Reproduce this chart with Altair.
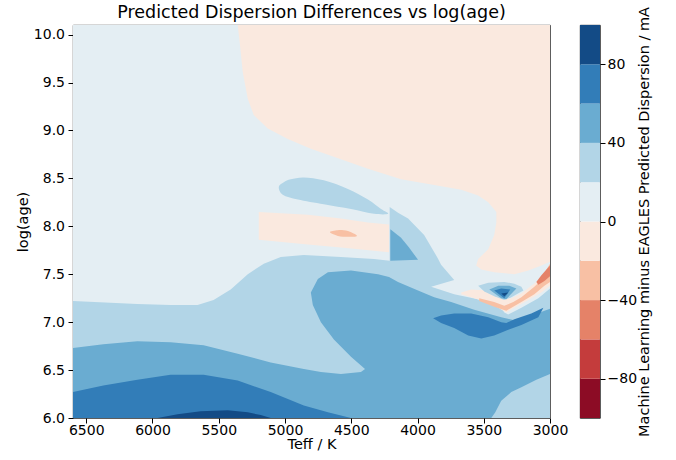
import altair as alt
import pandas as pd

# ---- colour levels (contour bands, lower bound of each 20 mA band) ----
LEVELS = [-100, -80, -60, -40, -20, 0, 20, 40, 60, 80]
COLORS = ["#8c0c25", "#c43c3c", "#e58268", "#f8c0a4", "#fae9df",
          "#e4eef3", "#b2d5e7", "#6aacd1", "#327db8", "#134b86"]

X_TICKS = [6500, 6000, 5500, 5000, 4500, 4000, 3500, 3000]
Y_TICKS = [6.0, 6.5, 7.0, 7.5, 8.0, 8.5, 9.0, 9.5, 10.0]
CB_TICKS = [-80, -40, 0, 40, 80]

# ---- contour regions: (Teff, log(age)) vertices ----
background = [(6600, 6.0), (3000, 6.0), (3000, 10.1), (6600, 10.1)]
upper_right = [(5357, 10.1), (3000, 10.1), (3000, 7.63), (3065, 7.59), (3163, 7.54),
               (3269, 7.50), (3421, 7.52), (3519, 7.55), (3557, 7.59), (3542, 7.66),
               (3466, 7.76), (3421, 7.91), (3405, 8.04), (3405, 8.15), (3466, 8.25),
               (3542, 8.32), (3670, 8.38), (3874, 8.43), (4124, 8.49), (4374, 8.60),
               (4578, 8.70), (4805, 8.81), (4979, 8.91), (5130, 9.02), (5236, 9.16),
               (5281, 9.33), (5319, 9.61), (5342, 9.92)]
mid_band = [(5198, 8.15), (4828, 8.12), (4578, 8.08), (4374, 8.04), (4215, 8.02),
            (4215, 7.73), (4578, 7.78), (4828, 7.81), (5198, 7.86)]
mid_spot = [(4661, 7.94), (4601, 7.96), (4525, 7.95), (4457, 7.90), (4525, 7.89),
            (4601, 7.90)]
upper_blob = [(5047, 8.41), (5009, 8.46), (4956, 8.49), (4858, 8.51), (4707, 8.48),
              (4525, 8.39), (4374, 8.28), (4275, 8.18), (4222, 8.13), (4328, 8.13),
              (4502, 8.18), (4707, 8.23), (4903, 8.28), (5017, 8.33)]
lower_20 = [(6600, 6.0), (6600, 7.22), (6114, 7.19), (5864, 7.18), (5660, 7.18),
            (5539, 7.23), (5410, 7.34), (5281, 7.50), (5160, 7.61), (5032, 7.68),
            (4858, 7.70), (4578, 7.68), (4328, 7.66), (4210, 7.64), (4210, 8.20),
            (4147, 8.14), (4071, 8.08), (3950, 7.91), (3844, 7.66), (3822, 7.60),
            (3723, 7.44), (3897, 7.37), (3723, 7.29), (3519, 7.23), (3368, 7.15),
            (3345, 7.10), (3315, 7.08), (3216, 7.15), (3088, 7.25), (3000, 7.35),
            (3000, 6.0)]
lower_40 = [(6600, 6.73), (6371, 6.77), (6114, 6.80), (5864, 6.79), (5614, 6.76),
            (5357, 6.67), (5108, 6.58), (4858, 6.51), (4729, 6.48), (4578, 6.46),
            (4427, 6.48), (4396, 6.51), (4502, 6.64), (4631, 6.82), (4729, 7.00),
            (4790, 7.18), (4805, 7.31), (4752, 7.45), (4676, 7.52), (4502, 7.54),
            (4298, 7.50), (4215, 7.47), (4147, 7.42), (3996, 7.33), (3874, 7.26),
            (3746, 7.21), (3572, 7.13), (3368, 7.05), (3269, 7.02), (3118, 7.08),
            (3000, 7.14), (3000, 6.0), (6600, 6.0)]
wedge_40 = [(4205, 7.97), (4124, 7.88), (4064, 7.78), (3996, 7.65), (4205, 7.64)]
lower_60 = [(6600, 6.27), (6371, 6.34), (6114, 6.40), (5864, 6.45), (5614, 6.45),
            (5357, 6.39), (5108, 6.27), (4858, 6.13), (4676, 6.06), (4502, 6.0),
            (6600, 6.0)]
lower_80 = [(5962, 6.0), (5811, 6.04), (5637, 6.07), (5433, 6.08), (5281, 6.06),
            (5183, 6.03), (5108, 6.0)]
cool_60 = [(3882, 7.04), (3822, 7.07), (3723, 7.09), (3595, 7.09), (3466, 7.05),
           (3368, 7.00), (3330, 6.99), (3269, 7.03), (3141, 7.09), (3050, 7.15),
           (3088, 7.05), (3216, 6.97), (3315, 6.92), (3421, 6.86), (3519, 6.83),
           (3617, 6.86), (3723, 6.94), (3822, 6.99)]
corner_20 = [(3443, 6.0), (3413, 6.06), (3368, 6.18), (3292, 6.27), (3216, 6.32),
             (3103, 6.40), (3000, 6.46), (3000, 6.0)]
vee_m20 = [(3670, 7.31), (3595, 7.34), (3466, 7.33), (3390, 7.28), (3345, 7.24),
           (3292, 7.25), (3216, 7.30), (3141, 7.38), (3065, 7.46), (3000, 7.57),
           (3000, 7.38), (3065, 7.31), (3163, 7.23), (3254, 7.16), (3330, 7.10),
           (3390, 7.15), (3481, 7.21), (3595, 7.26), (3670, 7.29)]
vee_m40 = [(3534, 7.25), (3421, 7.21), (3345, 7.17), (3277, 7.21), (3216, 7.26),
           (3118, 7.37), (3042, 7.47), (3027, 7.55), (3000, 7.61), (3000, 7.42),
           (3042, 7.38), (3118, 7.29), (3216, 7.21), (3330, 7.12), (3421, 7.16),
           (3534, 7.22)]
edge_m60 = [(3103, 7.42), (3065, 7.49), (3000, 7.59), (3000, 7.48), (3042, 7.43),
            (3088, 7.39)]
ring_20 = [(3542, 7.38), (3466, 7.41), (3345, 7.42), (3269, 7.40), (3216, 7.37),
           (3201, 7.33), (3292, 7.26), (3345, 7.23), (3421, 7.27), (3496, 7.32)]
ring_40 = [(3458, 7.34), (3390, 7.38), (3307, 7.38), (3254, 7.35), (3330, 7.24),
           (3368, 7.25)]
ring_60 = [(3421, 7.33), (3368, 7.35), (3300, 7.34), (3345, 7.25)]
ring_80 = [(3368, 7.30), (3315, 7.31), (3345, 7.27)]

# painting order (later regions drawn on top); True = smooth closed outline
SHAPES = [
    (background, 0, False), (upper_right, -20, False), (mid_band, -20, False),
    (mid_spot, -40, True), (upper_blob, 20, True), (lower_20, 20, False),
    (lower_40, 40, False), (wedge_40, 40, False), (lower_60, 60, False),
    (lower_80, 80, False), (cool_60, 60, False), (corner_20, 20, False),
    (vee_m20, -20, False), (vee_m40, -40, False), (edge_m60, -60, False),
    (ring_20, 20, False), (ring_40, 40, False), (ring_60, 60, False),
    (ring_80, 80, False),
]

rows = []
for k, (pts, lvl, _) in enumerate(SHAPES):
    for i, (t, a) in enumerate(pts):
        rows.append({"shape": k, "i": i, "teff": t, "logage": a, "level": lvl})
df = pd.DataFrame(rows)

FONT = "DejaVu Sans"
color_scale = alt.Scale(domain=LEVELS, range=COLORS)

x_enc = alt.X("teff:Q",
              scale=alt.Scale(domain=[3000, 6600], reverse=True, nice=False, zero=False),
              axis=alt.Axis(values=X_TICKS, format="d", title="Teff / K",
                            labelPadding=0, titlePadding=0, labelFlush=False))
y_enc = alt.Y("logage:Q",
              scale=alt.Scale(domain=[6.0, 10.1], nice=False, zero=False),
              axis=alt.Axis(values=Y_TICKS, format=".1f", title="log(age)",
                            labelPadding=3.5, titlePadding=3, labelFlush=False))

base = alt.Chart(df)
layers = []
for k, (_, _, smooth) in enumerate(SHAPES):
    layers.append(
        base.transform_filter(alt.datum.shape == k)
        .mark_line(filled=True,
                   interpolate="cardinal-closed" if smooth else "linear-closed",
                   clip=True)
        .encode(x=x_enc, y=y_enc, order=alt.Order("i:Q"),
                color=alt.Color("level:O", scale=color_scale, legend=None))
    )

main = alt.layer(*layers).properties(
    width=477, height=393,
    title=alt.TitleParams("Predicted Dispersion Differences vs log(age)",
                          fontSize=17.5, fontWeight="normal", font=FONT,
                          color="black", offset=4),
)

cb_df = pd.DataFrame({"lo": LEVELS, "hi": [v + 20 for v in LEVELS], "level": LEVELS})
cbar = alt.Chart(cb_df).mark_rect().encode(
    y=alt.Y("lo:Q", scale=alt.Scale(domain=[-100, 100], nice=False),
            axis=alt.Axis(orient="right", values=CB_TICKS, format="d",
                          title="Machine Learning minus EAGLES Predicted Dispersion / mA",
                          titleAngle=270, titleBaseline="top", labelPadding=2,
                          titlePadding=1, labelFlush=False)),
    y2="hi:Q",
    color=alt.Color("level:O", scale=color_scale, legend=None),
).properties(width=20, height=393)

chart = alt.hconcat(main, cbar, spacing=30, bounds="flush").properties(
    padding={"left": 14, "top": 3, "right": 5, "bottom": 5}
).configure(font=FONT).configure_view(
    stroke="black", strokeWidth=0.8
).configure_axis(
    labelFont=FONT, titleFont=FONT, labelFontSize=14, titleFontSize=14.5,
    titleFontWeight="normal", labelColor="black", titleColor="black",
    tickColor="black", domain=False, tickSize=5, grid=False,
)

chart.save("out.html", embed_options={"renderer": "svg", "actions": False})
